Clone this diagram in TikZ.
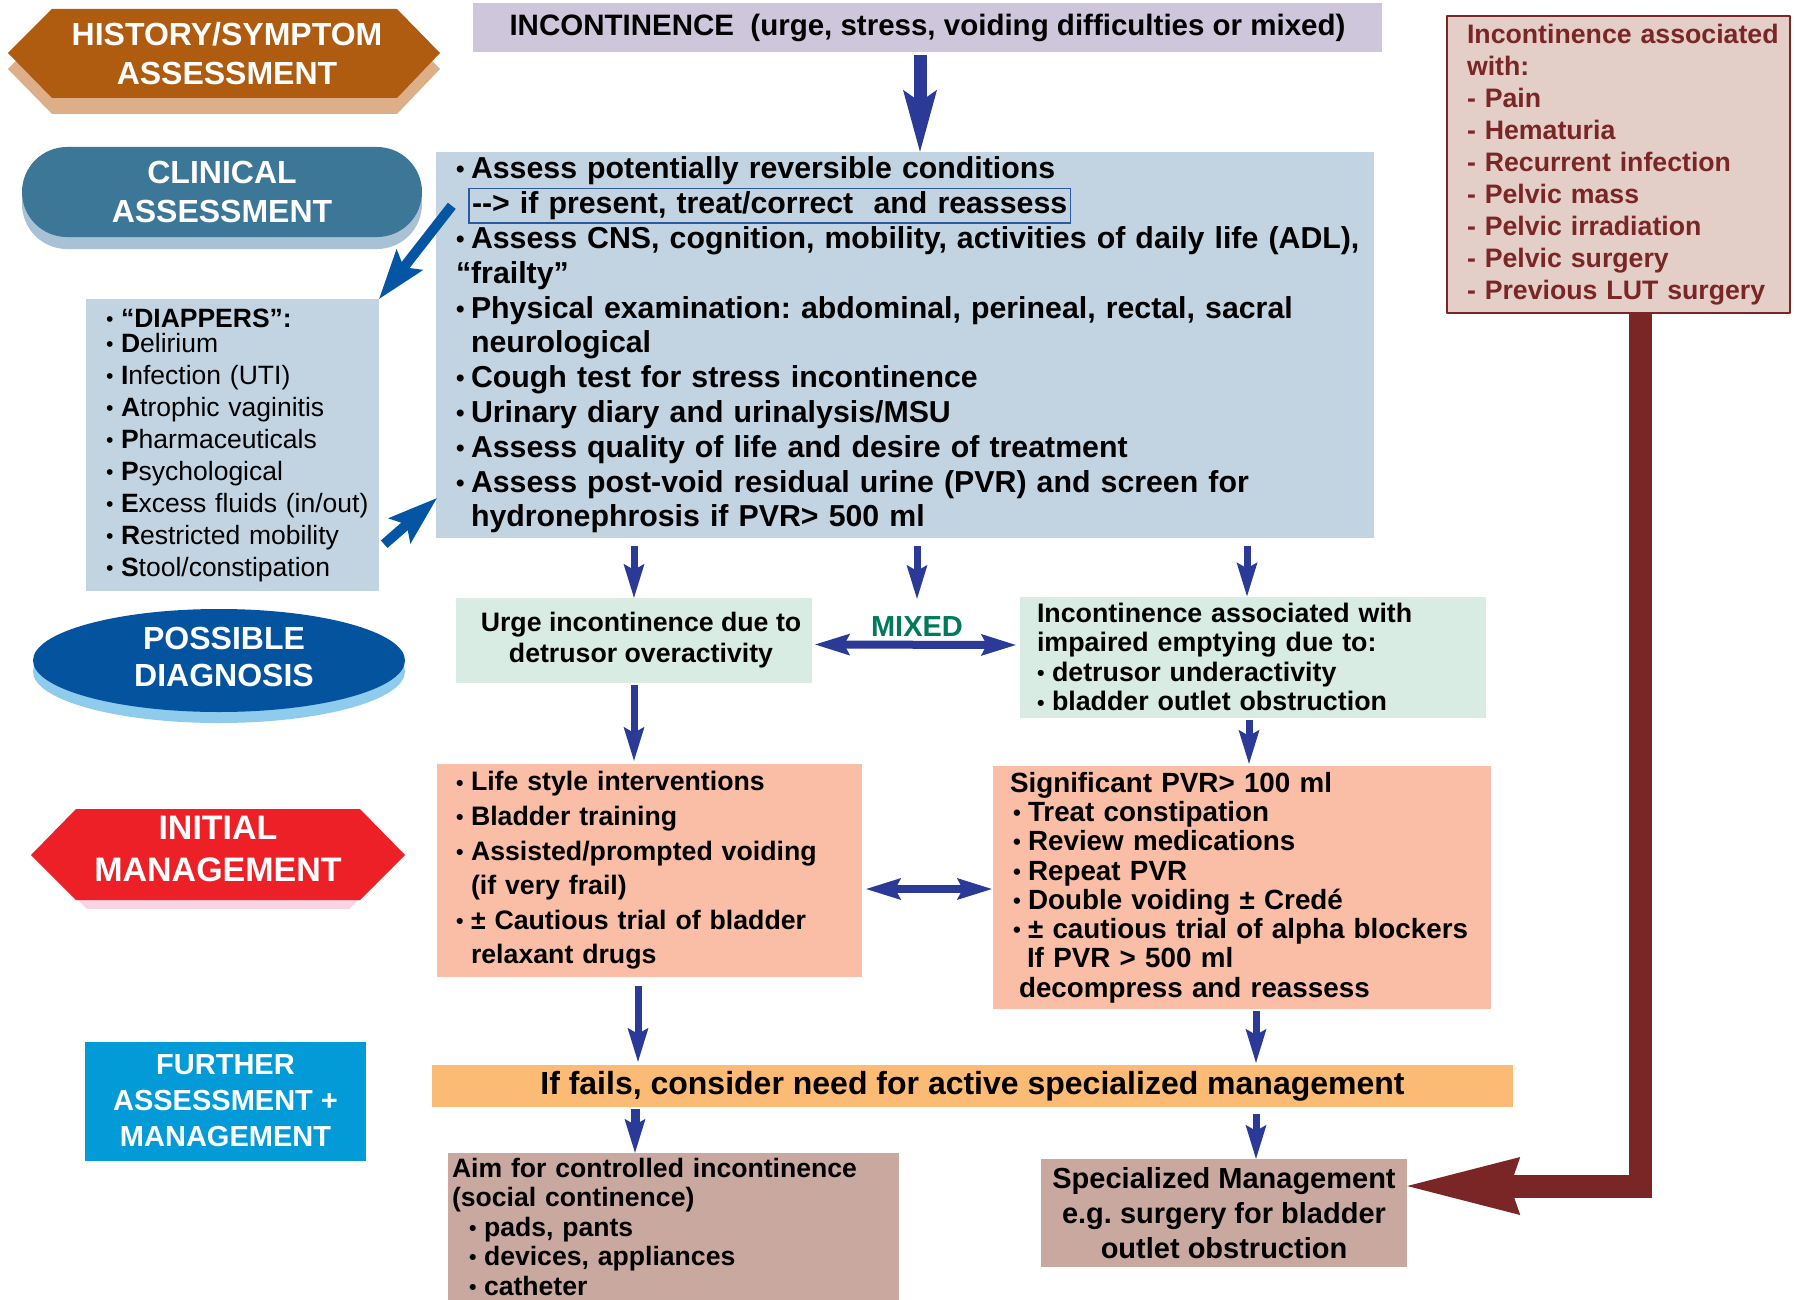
\documentclass[tikz,border=0pt]{standalone}
\usepackage{fontspec}
\setmainfont{Liberation Sans}
\usepackage{graphicx}
\usetikzlibrary{arrows.meta,shapes.geometric}
\definecolor{histcol}{HTML}{AF5B10}
\definecolor{histshade}{HTML}{DCAF88}
\definecolor{clincol}{HTML}{3C7797}
\definecolor{clinshade}{HTML}{A8C1D5}
\definecolor{posscol}{HTML}{03539F}
\definecolor{possshade}{HTML}{8ECBEC}
\definecolor{initcol}{HTML}{EE2027}
\definecolor{initshade}{HTML}{F9D4E1}
\definecolor{furthcol}{HTML}{029BD8}
\definecolor{inccol}{HTML}{CEC6DA}
\definecolor{greyblue}{HTML}{C2D4E2}
\definecolor{mint}{HTML}{D8ECE4}
\definecolor{salmon}{HTML}{F9BEA5}
\definecolor{barcol}{HTML}{FBBB75}
\definecolor{taupe}{HTML}{C9A89F}
\definecolor{panelcol}{HTML}{E3CFC7}
\definecolor{darkred}{HTML}{7A2526}
\definecolor{navyblue}{HTML}{2A3A96}
\definecolor{midblue}{HTML}{0455A4}
\definecolor{framecol}{HTML}{2C5AA0}
\definecolor{mixedcol}{HTML}{00795C}
\frenchspacing
\newcommand{\fsz}[2]{\fontsize{#1}{#2}\selectfont}
\newcommand{\bul}{\makebox[15pt][l]{\raisebox{.03em}{\scalebox{.8}{•}}}}
\newcommand{\boxedline}[1]{{\color{framecol}\setlength{\fboxsep}{2.5pt}\setlength{\fboxrule}{1.5pt}\fbox{\color{black}#1}}}
\begin{document}
\begin{tikzpicture}[x=1pt, y=-1pt, line join=round,
  taglabel/.style={text=white, font=\fsz{32}{39}\bfseries, align=center, inner sep=0pt},
  cardbox/.style={rectangle, inner sep=0pt, font=\bfseries},
  flowdown/.style={navyblue, line width=7pt, -{Stealth[length=34pt,width=21pt,inset=6pt,line width=0pt]}},
  flowfat/.style={navyblue, line width=13pt, -{Stealth[length=62pt,width=34pt,inset=12pt,line width=0pt]}},
  flowboth/.style={navyblue, line width=8pt, {Stealth[length=35pt,width=22pt,inset=6pt,line width=0pt]}-{Stealth[length=35pt,width=22pt,inset=6pt,line width=0pt]}},
  flowslant/.style={midblue, line width=10pt, -{Stealth[length=50pt,width=34pt,inset=10pt,line width=0pt]}},
  flowback/.style={darkred, line width=23pt, line join=miter, -{Stealth[length=113pt,width=58pt,inset=10pt,line width=0pt]}}]
\useasboundingbox[fill=white] (0,0) rectangle (1795,1300);
\fill[histshade] (8,69) -- (52,25) -- (397,25) -- (440,69) -- (397,114) -- (52,114) -- cycle;
\fill[histcol] (8,53) -- (52,9) -- (397,9) -- (440,53) -- (397,98) -- (52,98) -- cycle;
\node[taglabel] (hist) at (227,54) {HISTORY/SYMPTOM\\ASSESSMENT};
\fill[clinshade, rounded corners=45pt] (22,159) rectangle (422,249);
\node[taglabel, fill=clincol, rounded corners=45pt, minimum width=400pt, minimum height=90pt] (clin) at (222,192) {CLINICAL\\ASSESSMENT};
\fill[possshade] (219,671.5) ellipse [x radius=186, y radius=51.5];
\fill[posscol] (219,660.5) ellipse [x radius=186, y radius=51.5];
\node[taglabel, font=\fsz{32}{37}\bfseries] (poss) at (224,657) {POSSIBLE\\DIAGNOSIS};
\fill[initshade] (42,864) -- (87,818) -- (349,818) -- (394,864) -- (349,909) -- (87,909) -- cycle;
\fill[initcol] (31,855) -- (76,809) -- (360,809) -- (405,855) -- (360,900) -- (76,900) -- cycle;
\node[taglabel, font=\fsz{34}{42}\bfseries] (initlab) at (218,849) {INITIAL\\MANAGEMENT};
\node[taglabel, fill=furthcol, minimum width=281pt, minimum height=119pt, font=\fsz{29}{36}\bfseries] (furth) at (225.5,1101) {FURTHER\\ASSESSMENT +\\MANAGEMENT};

\node[cardbox, fill=inccol, minimum width=909pt, minimum height=49pt, font=\fsz{29.5}{34}\bfseries] (inc) at (927.5,27.5) {INCONTINENCE\ \ (urge, stress, voiding difficulties or mixed)};
\node[cardbox, fill=greyblue, minimum width=938pt, minimum height=386pt, text width=898pt, align=left, font=\fsz{30.3}{34.8}\bfseries] (main) at (905,345) {\bul Assess potentially reversible conditions\\
\hspace*{12pt}\boxedline{-{}-> if present, treat/correct\ \ and reassess}\\
\mbox{\bul Assess CNS, cognition, mobility, activities of daily life (ADL),}\\
“frailty”\\
\bul Physical examination: abdominal, perineal, rectal, sacral\\
\hspace*{15pt}neurological\\
\bul Cough test for stress incontinence\\
\bul Urinary diary and urinalysis/MSU\\
\bul Assess quality of life and desire of treatment\\
\bul Assess post-void residual urine (PVR) and screen for\\
\hspace*{15pt}hydronephrosis if PVR> 500 ml};
\node[cardbox, fill=greyblue, minimum width=293pt, minimum height=292pt, text width=253pt, align=left, font=\fsz{26.5}{32}\mdseries] (diapp) at (232.5,445) {\bul\textbf{“DIAPPERS”:}\\[-7pt]
\bul\textbf{D}elirium\\
\bul\textbf{I}nfection (UTI)\\
\bul\textbf{A}trophic vaginitis\\
\bul\textbf{P}harmaceuticals\\
\bul\textbf{P}sychological\\
\mbox{\bul\textbf{E}xcess fluids (in/out)}\\
\bul\textbf{R}estricted mobility\\
\bul\textbf{S}tool/constipation};
\node[cardbox, fill=mint, minimum width=356pt, minimum height=85pt, align=center, font=\fsz{26.7}{31}\bfseries] (urge) at (634,640.5) {\hspace*{14pt}Urge incontinence due to\\\hspace*{14pt}detrusor overactivity};
\node[font=\fsz{29}{34}\bfseries, text=mixedcol, inner sep=2pt] (mixed) at (917,627) {MIXED};
\node[cardbox, fill=mint, minimum width=466pt, minimum height=121pt, text width=432pt, align=left, font=\fsz{26.8}{29.6}\bfseries] (imp) at (1253,657) {Incontinence associated with\\
impaired emptying due to:\\
\bul detrusor underactivity\\
\bul bladder outlet obstruction};
\node[cardbox, fill=salmon, minimum width=425pt, minimum height=213pt, text width=387pt, align=left, font=\fsz{26.7}{34.6}\bfseries] (init) at (649.5,870.5) {\bul Life style interventions\\
\bul Bladder training\\
\bul Assisted/prompted voiding\\
\hspace*{15pt}(if very frail)\\
\bul ± Cautious trial of bladder\\
\hspace*{15pt}relaxant drugs};
\node[cardbox, fill=salmon, minimum width=498pt, minimum height=243pt, text width=464pt, align=left, font=\fsz{27.8}{29.3}\bfseries] (rinit) at (1242,887.5) {Significant PVR> 100 ml\\
\hspace*{3pt}\bul Treat constipation\\
\hspace*{3pt}\bul Review medications\\
\hspace*{3pt}\bul Repeat PVR\\
\hspace*{3pt}\bul Double voiding ± Credé\\
\mbox{\hspace*{3pt}\bul ± cautious trial of alpha blockers}\\
\hspace*{17pt}If PVR > 500 ml\\
\hspace*{9pt}decompress and reassess};
\node[cardbox, fill=barcol, minimum width=1081pt, minimum height=42pt, font=\fsz{32}{36}\bfseries] (bar) at (972.5,1086) {If fails, consider need for active specialized management};
\node[cardbox, fill=taupe, minimum width=451pt, minimum height=147pt, text width=443pt, align=left, font=\fsz{26.6}{29.5}\bfseries] (aim) at (673.5,1226.5) {Aim for controlled incontinence\\
(social continence)\\
\hspace*{17pt}\bul pads, pants\\
\hspace*{17pt}\bul devices, appliances\\
\hspace*{17pt}\bul catheter};
\node[cardbox, fill=taupe, minimum width=366pt, minimum height=108pt, align=center, font=\fsz{29}{35}\bfseries] (spec) at (1224,1213) {Specialized Management\\e.g. surgery for bladder\\outlet obstruction};
\node[cardbox, draw=darkred, line width=2.5pt, fill=panelcol, text=darkred, minimum width=343pt, minimum height=297pt, text width=303pt, align=left, font=\fsz{26.7}{32}\bfseries] (panel) at (1618.5,164.5) {\mbox{Incontinence associated}\\
with:\\
- Pain\\
- Hematuria\\
- Recurrent infection\\
- Pelvic mass\\
- Pelvic irradiation\\
- Pelvic surgery\\
- Previous LUT surgery};

\draw[flowfat, shorten <=3pt] ([xshift=-7.5pt]inc.south) -- ([xshift=15pt]main.north);
\draw[flowslant] ([shift={(16,54)}]main.north west) -- (diapp.north east);
\draw[flowslant] ([shift={(5,-47)}]diapp.south east) -- ([shift={(1,-40)}]main.south west);
\draw[flowdown, shorten <=8pt] (main.south -| urge.north) -- (urge.north);
\draw[flowdown, shorten <=8pt, shorten >=16pt] (main.south -| mixed.north) -- (mixed.north);
\draw[flowdown, shorten <=8pt] ([xshift=342pt]main.south) -- ([xshift=-6pt]imp.north);
\draw[flowboth] ([shift={(3,4)}]urge.east) -- ([shift={(-4,-12)}]imp.west);
\draw[flowdown, shorten <=2pt, shorten >=3pt] (urge.south) -- (urge.south |- init.north);
\draw[flowdown, shorten <=2pt, shorten >=2pt] ([xshift=-4pt]imp.south) -- ([xshift=7pt]rinit.north);
\draw[flowboth] ([shift={(4,18.5)}]init.east) -- ([shift={(-1,1.5)}]rinit.west);
\draw[flowdown, shorten <=9pt, shorten >=3pt] ([xshift=-11.5pt]init.south) -- ([xshift=-334.5pt]bar.north);
\draw[flowdown, shorten <=2pt, shorten >=2pt] ([xshift=14pt]rinit.south) -- ([xshift=283.5pt]bar.north);
\draw[flowdown, line width=9pt, shorten <=2pt] ([xshift=-337.5pt]bar.south) -- ([xshift=-38.5pt]aim.north);
\draw[flowdown, shorten <=7pt] ([xshift=283.5pt]bar.south) -- ([xshift=32pt]spec.north);
\draw[flowback] ([xshift=22pt]panel.south) |- ([yshift=27pt]spec.east);
\end{tikzpicture}
\end{document}
